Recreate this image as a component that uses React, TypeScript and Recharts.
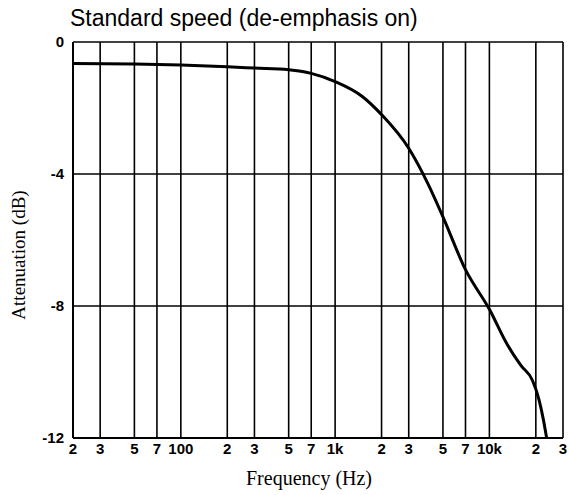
import React from 'react';
import { LineChart, Line, XAxis, YAxis, CartesianGrid } from 'recharts';

const freqs = [20, 50, 100, 200, 300, 500, 700, 1000, 1500, 2000, 3000, 4000, 5000, 7000, 10000, 13000, 16000, 19000, 21000, 22400, 23500];
const attenuation = [-0.65, -0.67, -0.7, -0.75, -0.79, -0.84, -0.95, -1.2, -1.65, -2.2, -3.22, -4.3, -5.3, -6.9, -8.1, -9.15, -9.8, -10.25, -10.85, -11.45, -12];

const xTicks = [20, 30, 50, 70, 100, 200, 300, 500, 700, 1000, 2000, 3000, 5000, 7000, 10000, 20000, 30000];
const xTickLabels = ['2', '3', '5', '7', '100', '2', '3', '5', '7', '1k', '2', '3', '5', '7', '10k', '2', '3'];
const yTicks = [-12, -8, -4, 0];
const yTickLabels = ['-12', '-8', '-4', '0'];

const data = freqs.map((f, i) => ({ f, dB: attenuation[i] }));

const tickFont = { fontFamily: '"Liberation Sans", Arial, sans-serif', fontSize: 15, fontWeight: 700, fill: '#000' };

export default function App() {
  return (
    <div style={{ position: 'absolute', left: 0, top: 0, width: 569, height: 495, background: '#fff' }}>
      <LineChart width={569} height={495} data={data} margin={{ top: 42, right: 6, bottom: 27, left: 43 }}>
        <CartesianGrid stroke="#000" strokeWidth={1.6} fill="none" />
        <XAxis
          dataKey="f"
          type="number"
          scale="log"
          domain={[20, 30000]}
          ticks={xTicks}
          tickFormatter={(v: number) => xTickLabels[xTicks.indexOf(v)] ?? ''}
          allowDataOverflow
          height={30}
          tickLine={false}
          tickSize={0}
          tickMargin={5}
          axisLine={{ stroke: '#000', strokeWidth: 2 }}
          tick={tickFont}
          interval={0}
        />
        <YAxis
          type="number"
          domain={[-12, 0]}
          ticks={yTicks}
          tickFormatter={(v: number) => yTickLabels[yTicks.indexOf(v)] ?? ''}
          width={30}
          tickLine={false}
          tickSize={0}
          tickMargin={9}
          axisLine={{ stroke: '#000', strokeWidth: 2 }}
          tick={tickFont}
          interval={0}
        />
        <Line
          dataKey="dB"
          type="monotone"
          stroke="#000"
          strokeWidth={3}
          dot={false}
          isAnimationActive={false}
        />
      </LineChart>
      <div style={{ position: 'absolute', left: 70, top: 7, fontFamily: '"Liberation Sans", Arial, sans-serif', fontSize: 23, lineHeight: 1, whiteSpace: 'nowrap', color: '#000' }}>
        Standard speed (de-emphasis on)
      </div>
      <div style={{ position: 'absolute', left: 18, top: 255, transform: 'translate(-50%, -50%) rotate(-90deg)', fontFamily: '"Liberation Serif", "Times New Roman", serif', fontSize: 19, lineHeight: 1, whiteSpace: 'nowrap', color: '#000' }}>
        Attenuation (dB)
      </div>
      <div style={{ position: 'absolute', left: 309, top: 478, transform: 'translate(-50%, -50%)', fontFamily: '"Liberation Serif", "Times New Roman", serif', fontSize: 20, lineHeight: 1, whiteSpace: 'nowrap', color: '#000' }}>
        Frequency (Hz)
      </div>
    </div>
  );
}
